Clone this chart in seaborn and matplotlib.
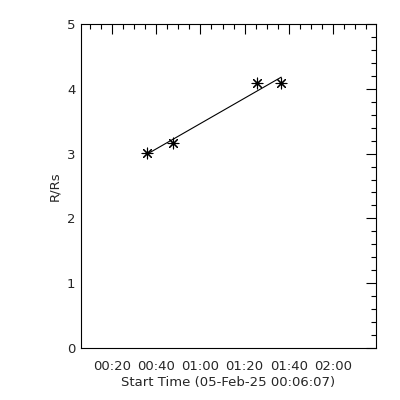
import numpy as np
import pandas as pd
import matplotlib
matplotlib.use('Agg')
import matplotlib.pyplot as plt
import seaborn as sns
from matplotlib.ticker import MultipleLocator

# minutes after 00:00 on 05-Feb-25, start time 00:06:07
t_start = 6 + 7 / 60.0
t_end = 139.3
times = [35.9, 47.6, 85.8, 96.5]
heights = [3.01, 3.17, 4.09, 4.09]
tick_pos = [20, 40, 60, 80, 100, 120]
tick_labels = ['00:20', '00:40', '01:00', '01:20', '01:40', '02:00']

df = pd.DataFrame({'t': times, 'h': heights})

# linear fit of height vs time
coef = np.polyfit(df['t'], df['h'], 1)
fit = pd.DataFrame({'t': [df['t'].min(), df['t'].max()]})
fit['h'] = np.polyval(coef, fit['t'])

sns.set_style('white')
plt.rcParams['font.family'] = ['DejaVu Sans']

fig = plt.figure(figsize=(4, 4), dpi=100)
ax = fig.add_axes([0.2025, 0.13, 0.7375, 0.81])

sns.lineplot(data=fit, x='t', y='h', color='black', linewidth=0.8, ax=ax)
sns.scatterplot(data=df, x='t', y='h', marker=(8, 2, 0), s=60, color='black',
                linewidth=0.8, edgecolor='black', ax=ax)

ax.set_xlim(t_start, t_end)
ax.set_ylim(0, 5)
ax.set_xticks(tick_pos)
ax.set_xticklabels(tick_labels)
ax.xaxis.set_minor_locator(MultipleLocator(5))
ax.set_yticks([0, 1, 2, 3, 4, 5])
ax.yaxis.set_minor_locator(MultipleLocator(0.2))

ax.tick_params(which='both', direction='in', top=True, right=True,
               labeltop=False, labelright=False, color='black', width=0.8)
ax.tick_params(which='major', length=7, labelsize=9.5)
ax.tick_params(axis='x', which='major', pad=9)
ax.tick_params(axis='y', which='major', pad=4)
ax.tick_params(which='minor', length=3.5)

for s in ax.spines.values():
    s.set_color('black')
    s.set_linewidth(0.8)

ax.set_xlabel('Start Time (05-Feb-25 00:06:07)', fontsize=9.5, labelpad=2)
ax.set_ylabel('R/Rs', fontsize=9.5, labelpad=4)

fig.savefig('out.png', dpi=100, facecolor='white')
